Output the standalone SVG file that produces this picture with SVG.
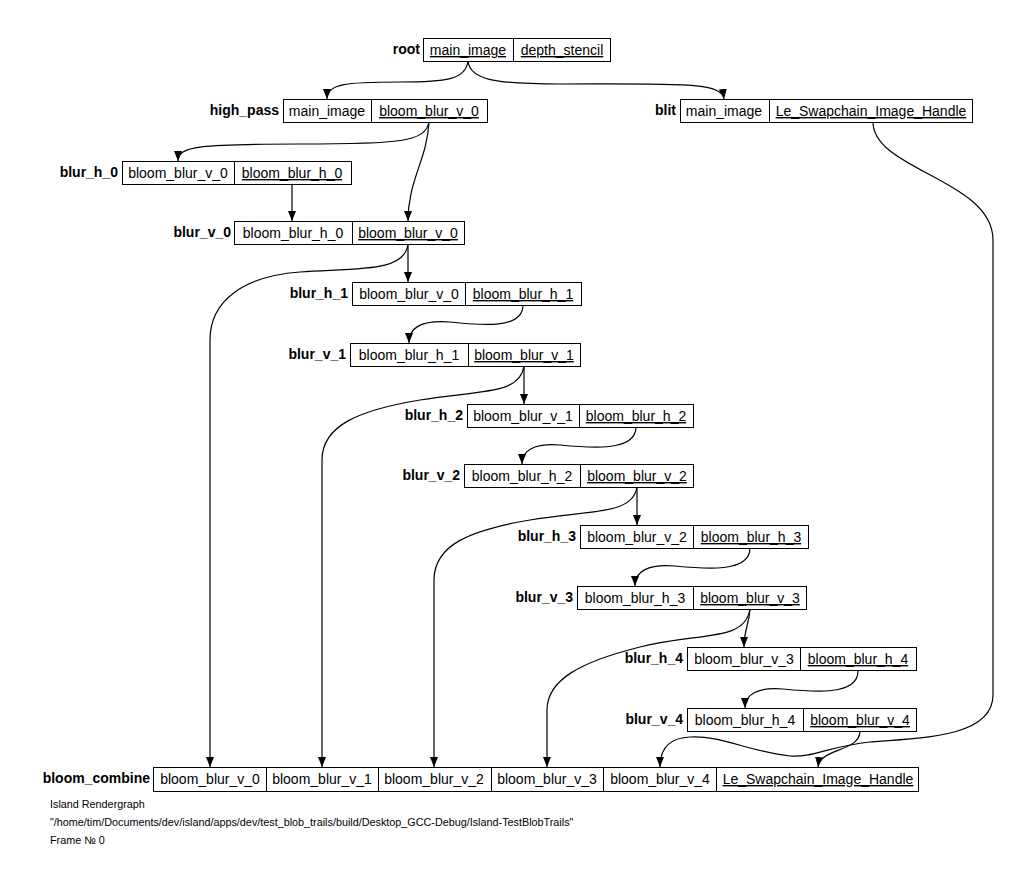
<svg xmlns="http://www.w3.org/2000/svg" width="1032" height="890" viewBox="0 0 1032 890">
<style>
.bg{fill:#fff}
.box{fill:#fff;stroke:#000;stroke-width:1}
.div{stroke:#000;stroke-width:1}
.t{font-family:"Liberation Sans",Arial,sans-serif;font-size:14px;text-anchor:middle;fill:#000}
.u{text-decoration:underline}
.lbl{font-family:"Liberation Sans",Arial,sans-serif;font-size:14px;font-weight:bold;text-anchor:end;fill:#000}
.e{fill:none;stroke:#000;stroke-width:1.2;marker-end:url(#arr)}
.f{font-family:"Liberation Sans",Arial,sans-serif;font-size:10.8px;fill:#000}
</style>
<defs>
<marker id="arr" markerWidth="10" markerHeight="8" refX="10" refY="4" orient="auto" markerUnits="userSpaceOnUse"><path d="M0,0 L10,4 L0,8 z" fill="#000"/></marker>
</defs>
<rect class="bg" x="0" y="0" width="1032" height="890"/>
<g id="connectors">
<path class="e" d="M468,61 C466,80 445,82 400,82 C345,82 327,84 327,99"/>
<path class="e" d="M468,61 C470,80 495,84 560,84 C680,84 722,82 724,99"/>
<path class="e" d="M429,122 C425,142 400,144 300,144 C200,144 178,146 178,161"/>
<path class="e" d="M429,122 C427,160 408,180 408,221"/>
<path class="e" d="M292,184 L292,221"/>
<path class="e" d="M408,244 L408,282"/>
<path class="e" d="M408,244 C405,272 360,268 300,272 C245,276 210,300 210,340 L210,767"/>
<path class="e" d="M523,305 C523,330 480,325 450,322 C420,320 409,328 409,343"/>
<path class="e" d="M524,366 L524,404"/>
<path class="e" d="M524,366 C520,395 480,390 420,400 C360,410 322,425 322,460 L322,767"/>
<path class="e" d="M636,427 C636,452 590,448 560,445 C535,443 522,450 522,464"/>
<path class="e" d="M637,487 L637,525"/>
<path class="e" d="M637,487 C633,515 590,510 530,520 C470,530 434,545 434,580 L434,767"/>
<path class="e" d="M750,548 C750,573 705,569 675,566 C648,564 635,571 635,586"/>
<path class="e" d="M750,609 C749,625 744,630 744,647"/>
<path class="e" d="M750,609 C745,642 700,632 640,647 C580,662 547,680 547,710 L547,767"/>
<path class="e" d="M858,671 C858,696 813,692 783,689 C758,687 745,694 745,708"/>
<path class="e" d="M860,731 C860,752 820,748 818,767"/>
<path class="e" d="M873,122 C873,170 993,180 993,240 L993,695 C993,735 930,738 870,742 C830,746 812,758 790,756 C750,752 720,735 690,737 C668,738 660,750 660,767"/>
</g>
<g id="root">
<text class="lbl" x="420" y="54">root</text>
<rect class="box" x="423.5" y="38.5" width="187" height="23"/>
<line class="div" x1="513.5" y1="38.5" x2="513.5" y2="61.5"/>
<text class="t u" x="468" y="55">main_image</text>
<text class="t u" x="562" y="55">depth_stencil</text>
</g>
<g id="high_pass">
<text class="lbl" x="279" y="115">high_pass</text>
<rect class="box" x="283.5" y="99.5" width="204" height="23"/>
<line class="div" x1="371.5" y1="99.5" x2="371.5" y2="122.5"/>
<text class="t" x="327" y="116">main_image</text>
<text class="t u" x="429" y="116">bloom_blur_v_0</text>
</g>
<g id="blit">
<text class="lbl" x="676" y="115">blit</text>
<rect class="box" x="680.5" y="99.5" width="292" height="23"/>
<line class="div" x1="769.5" y1="99.5" x2="769.5" y2="122.5"/>
<text class="t" x="724" y="116">main_image</text>
<text class="t u" x="871" y="116">Le_Swapchain_Image_Handle</text>
</g>
<g id="blur_h_0">
<text class="lbl" x="118" y="177">blur_h_0</text>
<rect class="box" x="122.5" y="161.5" width="229" height="23"/>
<line class="div" x1="234.5" y1="161.5" x2="234.5" y2="184.5"/>
<text class="t" x="178" y="178">bloom_blur_v_0</text>
<text class="t u" x="292" y="178">bloom_blur_h_0</text>
</g>
<g id="blur_v_0">
<text class="lbl" x="231" y="237">blur_v_0</text>
<rect class="box" x="234.5" y="221.5" width="230" height="23"/>
<line class="div" x1="352.5" y1="221.5" x2="352.5" y2="244.5"/>
<text class="t" x="293" y="238">bloom_blur_h_0</text>
<text class="t u" x="408" y="238">bloom_blur_v_0</text>
</g>
<g id="blur_h_1">
<text class="lbl" x="348" y="298">blur_h_1</text>
<rect class="box" x="352.5" y="282.5" width="229" height="23"/>
<line class="div" x1="465.5" y1="282.5" x2="465.5" y2="305.5"/>
<text class="t" x="409" y="299">bloom_blur_v_0</text>
<text class="t u" x="523" y="299">bloom_blur_h_1</text>
</g>
<g id="blur_v_1">
<text class="lbl" x="346" y="359">blur_v_1</text>
<rect class="box" x="350.5" y="343.5" width="230" height="23"/>
<line class="div" x1="468.5" y1="343.5" x2="468.5" y2="366.5"/>
<text class="t" x="409" y="360">bloom_blur_h_1</text>
<text class="t u" x="524" y="360">bloom_blur_v_1</text>
</g>
<g id="blur_h_2">
<text class="lbl" x="463" y="420">blur_h_2</text>
<rect class="box" x="467.5" y="404.5" width="226" height="23"/>
<line class="div" x1="579.5" y1="404.5" x2="579.5" y2="427.5"/>
<text class="t" x="523" y="421">bloom_blur_v_1</text>
<text class="t u" x="636" y="421">bloom_blur_h_2</text>
</g>
<g id="blur_v_2">
<text class="lbl" x="460" y="480">blur_v_2</text>
<rect class="box" x="464.5" y="464.5" width="229" height="23"/>
<line class="div" x1="580.5" y1="464.5" x2="580.5" y2="487.5"/>
<text class="t" x="522" y="481">bloom_blur_h_2</text>
<text class="t u" x="637" y="481">bloom_blur_v_2</text>
</g>
<g id="blur_h_3">
<text class="lbl" x="576" y="541">blur_h_3</text>
<rect class="box" x="580.5" y="525.5" width="228" height="23"/>
<line class="div" x1="693.5" y1="525.5" x2="693.5" y2="548.5"/>
<text class="t" x="637" y="542">bloom_blur_v_2</text>
<text class="t u" x="751" y="542">bloom_blur_h_3</text>
</g>
<g id="blur_v_3">
<text class="lbl" x="573" y="602">blur_v_3</text>
<rect class="box" x="577.5" y="586.5" width="229" height="23"/>
<line class="div" x1="693.5" y1="586.5" x2="693.5" y2="609.5"/>
<text class="t" x="635" y="603">bloom_blur_h_3</text>
<text class="t u" x="750" y="603">bloom_blur_v_3</text>
</g>
<g id="blur_h_4">
<text class="lbl" x="683" y="663">blur_h_4</text>
<rect class="box" x="687.5" y="647.5" width="229" height="23"/>
<line class="div" x1="800.5" y1="647.5" x2="800.5" y2="670.5"/>
<text class="t" x="744" y="664">bloom_blur_v_3</text>
<text class="t u" x="858" y="664">bloom_blur_h_4</text>
</g>
<g id="blur_v_4">
<text class="lbl" x="683" y="724">blur_v_4</text>
<rect class="box" x="687.5" y="708.5" width="229" height="23"/>
<line class="div" x1="803.5" y1="708.5" x2="803.5" y2="731.5"/>
<text class="t" x="745" y="725">bloom_blur_h_4</text>
<text class="t u" x="860" y="725">bloom_blur_v_4</text>
</g>
<g id="bloom_combine">
<text class="lbl" x="150" y="783">bloom_combine</text>
<rect class="box" x="153.5" y="767.5" width="765" height="24"/>
<line class="div" x1="266.5" y1="767.5" x2="266.5" y2="791.5"/>
<line class="div" x1="378.5" y1="767.5" x2="378.5" y2="791.5"/>
<line class="div" x1="491.5" y1="767.5" x2="491.5" y2="791.5"/>
<line class="div" x1="603.5" y1="767.5" x2="603.5" y2="791.5"/>
<line class="div" x1="716.5" y1="767.5" x2="716.5" y2="791.5"/>
<text class="t" x="210" y="784">bloom_blur_v_0</text>
<text class="t" x="322" y="784">bloom_blur_v_1</text>
<text class="t" x="434" y="784">bloom_blur_v_2</text>
<text class="t" x="547" y="784">bloom_blur_v_3</text>
<text class="t" x="660" y="784">bloom_blur_v_4</text>
<text class="t u" x="818" y="784">Le_Swapchain_Image_Handle</text>
</g>
<g id="footer">
<text class="f" x="50" y="808">Island Rendergraph</text>
<text class="f" x="50" y="826">"/home/tim/Documents/dev/island/apps/dev/test_blob_trails/build/Desktop_GCC-Debug/Island-TestBlobTrails"</text>
<text class="f" x="50" y="844">Frame № 0</text>
</g>
</svg>
